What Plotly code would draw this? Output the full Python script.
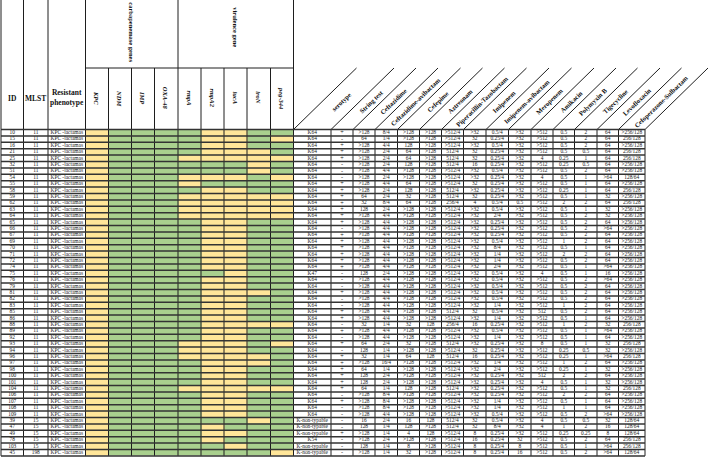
import plotly.graph_objects as go

# ---------------- data ----------------
ids = [10, 15, 16, 21, 25, 32, 51, 54, 55, 58, 59, 62, 63, 64, 65, 66, 67, 69, 70, 71,
       72, 74, 75, 76, 79, 81, 82, 83, 85, 86, 88, 89, 92, 93, 94, 96, 97, 98, 100, 101,
       104, 106, 107, 108, 109, 39, 47, 49, 78, 103, 45]
mlst = [11] * 45 + [15, 15, 15, 15, 15, 198]
phenotype = ["KPC -lactamas"] * 51

gene_names = ["KPC", "NDM", "IMP", "OXA-48", "rmpA", "rmpA2", "iucA", "iroN", "peg-344"]
kpc = [1] * 51
ndm = [0] * 51
imp = [0] * 51
oxa48 = [0] * 51
rmpA = [0, 0, 0, 0, 1, 0, 0, 1, 1, 0, 1, 1, 1, 1, 0, 0, 0, 0, 0, 0,
        0, 0, 0, 0, 0, 0, 0, 0, 0, 0, 0, 0, 0, 1, 1, 1, 0, 0, 0, 0,
        1, 0, 0, 0, 0, 0, 0, 0, 0, 0, 0]
rmpA2 = [1, 1, 1, 1, 1, 0, 0, 1, 0, 1, 1, 1, 1, 1, 1, 1, 1, 1, 1, 1,
         1, 1, 0, 1, 1, 1, 1, 1, 1, 1, 1, 1, 1, 1, 1, 1, 1, 1, 1, 1,
         1, 1, 1, 1, 1, 0, 1, 1, 1, 0, 0]
iucA = [1, 1, 1, 1, 1, 0, 0, 1, 0, 1, 1, 1, 1, 1, 1, 1, 1, 1, 1, 1,
        1, 1, 1, 1, 1, 1, 1, 1, 1, 1, 1, 1, 1, 1, 1, 1, 1, 1, 1, 1,
        1, 1, 1, 1, 1, 0, 0, 1, 0, 1, 0]
iroN = [0, 0, 0, 1, 1, 1, 1, 0, 0, 0, 1, 1, 1, 1, 0, 0, 0, 0, 0, 0,
        0, 0, 0, 0, 0, 1, 0, 0, 0, 0, 1, 0, 0, 0, 0, 1, 1, 0, 0, 0,
        1, 0, 0, 0, 0, 1, 0, 0, 0, 0, 0]
peg344 = [0, 1, 0, 0, 1, 0, 0, 1, 0, 0, 1, 1, 1, 1, 0, 0, 0, 0, 0, 0,
          0, 0, 0, 0, 0, 0, 0, 0, 0, 0, 1, 0, 0, 1, 0, 0, 0, 0, 0, 0,
          1, 0, 0, 0, 0, 0, 0, 0, 0, 0, 1]

serotype = ["K64"] * 22 + ["K47"] + ["K64"] * 22 + ["K-non-typable", "K-non-typable",
            "K-non-typable", "K54", "K-non-typable", "K-non-typable"]
string_test = ["+", "-", "+", "+", "+", "-", "-", "-", "+", "+", "+", "+", "+", "+", "+", "-", "+",
               "+", "+", "+", "+", "+", "-", "-", "-", "+", "-", "-", "+", "+", "-", "+", "-", "+",
               "-", "+", "+", "+", "+", "+", "+", "-", "+", "-", "-", "-", "-", "+", "-", "-", "-"]

drug_names = ["Ceftazidime", "Ceftazidime-avibactam", "Cefepime", "Aztreonam",
              "Piperacillin-Tazobactam", "Imipenem", "Imipenem-avibactam", "Meropenem",
              "Amikacin", "Polymyxin B", "Tigecycline", "Levofloxacin", "Cefoperazone-Sulbactam"]

ceftazidime = [">128", "64", ">128", ">128", ">128", ">128", ">128", ">128", ">128", ">128",
               "64", "32", "128", ">128", ">128", ">128", ">128", ">128", ">128", ">128",
               ">128", ">128", "128", ">128", ">128", ">128", ">128", ">128", ">128", ">128",
               "32", ">128", ">128", "64", "128", "32", ">128", "64", "128", "128",
               "64", ">128", ">128", ">128", ">128", "16", "128", ">128", ">128", "128", ">128"]
caz_avi = ["8/4", "1/4", "4/4", "2/4", "2/4", "2/4", "4/4", "2/4", "4/4", "2/4",
           "2/4", "8/4", "2/4", "4/4", "4/4", "4/4", "4/4", "4/4", "4/4", "4/4",
           "4/4", "4/4", "2/4", "4/4", "4/4", "4/4", "4/4", "4/4", "4/4", "4/4",
           "1/4", "4/4", "4/4", "2/4", "1/4", "1/4", "16/4", "1/4", "2/4", "2/4",
           "1/4", "8/4", "8/4", "8/4", "4/4", "2/4", "1/4", "1/4", "2/4", "1/4", "1/4"]
cefepime = [">128", ">128", "128", "64", "64", "128", ">128", ">128", "64", "128",
            "32", "64", ">128", ">128", ">128", ">128", ">128", ">128", ">128", ">128",
            ">128", ">128", ">128", ">128", ">128", ">128", ">128", ">128", ">128", ">128",
            "32", ">128", ">128", "32", ">128", "64", ">128", ">128", ">128", ">128",
            "128", ">128", ">128", ">128", ">128", "16", "128", "4", ">128", "8", "32"]
aztreonam = [">128", ">128", ">128", ">128", ">128", ">128", ">128", ">128", ">128", ">128",
             ">128", ">128", ">128", ">128", ">128", ">128", ">128", ">128", ">128", ">128",
             ">128", ">128", ">128", ">128", ">128", ">128", ">128", ">128", ">128", ">128",
             "128", ">128", ">128", ">128", ">128", "128", ">128", ">128", ">128", ">128",
             ">128", ">128", ">128", ">128", ">128", "128", ">128", "128", ">128", ">128", ">128"]
pip_tazo = [">512/4", ">512/4", ">512/4", "512/4", "512/4", "512/4", ">512/4", ">512/4", ">512/4", "512/4",
            "512/4", "256/4", ">512/4", ">512/4", ">512/4", ">512/4", ">512/4", ">512/4", ">512/4", ">512/4",
            ">512/4", ">512/4", ">512/4", ">512/4", ">512/4", ">512/4", ">512/4", ">512/4", "512/4", ">512/4",
            "256/4", ">512/4", ">512/4", "512/4", ">512/4", "512/4", ">512/4", ">512/4", ">512/4", ">512/4",
            "512/4", ">512/4", ">512/4", ">512/4", ">512/4", "512/4", "512/4", ">512/4", ">512/4", ">512/4", ">512/4"]
imipenem = [">32", "32", ">32", "32", "32", "16", ">32", ">32", "32", ">32",
            "32", "4", ">32", ">32", ">32", ">32", ">32", ">32", ">32", ">32",
            ">32", ">32", ">32", ">32", ">32", ">32", ">32", ">32", "32", ">32",
            "16", ">32", ">32", ">32", "32", "16", ">32", ">32", ">32", ">32",
            ">32", ">32", ">32", ">32", ">32", "32", "32", "8", "16", "8", "8"]
imi_avi = ["0.5/4", "0.25/4", "0.5/4", "0.25/4", "0.25/4", "0.25/4", "0.5/4", "0.25/4", "0.25/4", "0.25/4",
           "0.25/4", "0.5/4", "0.5/4", "2/4", "0.25/4", "0.25/4", "0.25/4", "0.5/4", "8/4", "1/4",
           "1/4", "2/4", "0.5/4", "0.5/4", "0.5/4", "0.5/4", "0.5/4", "1/4", "0.5/4", "1/4",
           "0.25/4", "0.5/4", "1/4", "0.25/4", "0.25/4", "0.25/4", "1/4", "2/4", "0.25/4", "0.25/4",
           "0.25/4", "0.25/4", "1/4", "1/4", "0.5/4", "0.5/4", "8/4", "0.25/4", "0.25/4", "0.25/4", "0.25/4"]
meropenem = [">32", ">32", ">32", ">32", ">32", ">32", ">32", ">32", ">32", ">32",
             ">32", "0.5", ">32", ">32", ">32", ">32", ">32", ">32", ">32", ">32",
             ">32", ">32", ">32", ">32", ">32", ">32", ">32", ">32", ">32", ">32",
             ">32", ">32", ">32", ">32", ">32", ">32", ">32", ">32", ">32", ">32",
             ">32", ">32", ">32", ">32", ">32", ">32", ">32", ">32", "32", "8", "16"]
amikacin = [">512", ">512", ">512", ">512", "4", ">512", ">512", "4", ">512", ">512",
            ">512", ">512", ">512", ">512", ">512", ">512", ">512", ">512", ">512", ">512",
            ">512", ">512", "4", ">512", ">512", ">512", ">512", ">512", "512", ">512",
            ">512", ">512", ">512", "8", ">512", ">512", ">512", ">512", "512", "4",
            ">512", ">512", ">512", ">512", ">512", "4", "4", ">512", ">512", ">512", ">512"]
polymyxin_b = ["0.5", "0.5", "0.5", "0.5", "0.25", "0.25", "0.5", "0.5", "0.5", "0.25",
               "0.5", "2", "0.5", "0.5", "0.5", "0.5", "0.5", "1", "0.5", "2",
               "0.5", "0.5", "0.5", "0.5", "0.5", "0.5", "0.5", "1", "0.5", "0.5",
               "1", "0.5", "0.5", "0.5", "0.25", "0.25", "1", "0.25", "2", "0.5",
               "0.5", "2", "0.5", "1", "0.5", "0.5", "1", "0.25", "0.5", "0.5", "0.5"]
tigecycline = ["2", "2", "2", "0.5", "1", "0.5", "2", "1", "1", "1",
               "1", "2", "1", "2", "2", "2", "2", "2", "1", "2",
               "2", "1", "1", "2", "2", "2", "2", "2", "2", "1",
               "2", "1", "1", "1", "0.5", "1", "2", "1", "2", "1",
               "1", "2", "1", "1", "2", "0.5", "2", "0.25", "2", "1", "2"]
levofloxacin = ["64", "64", "64", "64", "64", "64", "64", ">64", "64", "64",
                "32", "64", "32", "32", "64", ">64", "64", "64", "64", "64",
                "64", ">64", "16", ">64", "64", "64", "64", "64", "64", "64",
                "32", ">64", "64", "32", "32", ">64", "64", "32", "64", "32",
                "32", "64", "64", "64", ">64", "32", "16", "8", "64", ">64", ">64"]
cefop_sulb = [">256/128", "256/128", ">256/128", "256/128", "256/128", ">256/128", ">256/128", "128/64", ">256/128", "256/128",
              ">256/128", "256/128", ">256/128", ">256/128", ">256/128", ">256/128", ">256/128", ">256/128", ">256/128", ">256/128",
              ">256/128", ">256/128", ">256/128", ">256/128", ">256/128", ">256/128", ">256/128", ">256/128", ">256/128", ">256/128",
              "256/128", ">256/128", ">256/128", "256/128", ">256/128", "256/128", ">256/128", ">256/128", ">256/128", ">256/128",
              "256/128", ">256/128", ">256/128", ">256/128", ">256/128", "128/64", "128/64", "128/64", "256/128", "256/128", "128/64"]

# ---------------- layout constants ----------------
W, H = 708, 461
col_edges = [1, 23.5, 48, 85.5, 108.5, 131.5, 154.5, 178, 201, 224, 247, 270.5, 293.5,
             331, 353, 375, 397.5, 419.5, 441.5, 463.5, 486, 508.5, 531, 553, 574.5,
             597, 618.5, 645]
head_top, group_bot, row_top, row_h = 0, 68, 129.5, 6.4
diag_dx = 63
YELLOW, GREEN = "#FFE699", "#A9D08E"
LINE = "#1e1e1e"
SERIF = "Liberation Serif"

n = len(ids)
row_edges = [row_top + i * row_h for i in range(n + 1)]
row_mid = [row_top + (i + 0.5) * row_h for i in range(n)]
cx = [(col_edges[i] + col_edges[i + 1]) / 2 for i in range(len(col_edges) - 1)]

fig = go.Figure()

# gene presence cells
genes = [kpc, ndm, imp, oxa48, rmpA, rmpA2, iucA, iroN, peg344]
z = [[g[r] for g in genes] for r in range(n)]
fig.add_trace(go.Heatmap(
    x=col_edges[3:13], y=row_edges, z=z, zmin=0, zmax=1,
    colorscale=[[0, GREEN], [0.5, GREEN], [0.5, YELLOW], [1, YELLOW]],
    showscale=False, hoverinfo="skip", xgap=0, ygap=0))

# text columns
text_cols = [(0, [str(v) for v in ids]), (1, [str(v) for v in mlst]), (2, phenotype),
             (12, serotype), (13, string_test)]
drug_vals = [ceftazidime, caz_avi, cefepime, aztreonam, pip_tazo, imipenem, imi_avi,
             meropenem, amikacin, polymyxin_b, tigecycline, levofloxacin, cefop_sulb]
for k, vals in enumerate(drug_vals):
    text_cols.append((14 + k, vals))
for ci, vals in text_cols:
    fig.add_trace(go.Scatter(
        x=[cx[ci]] * n, y=row_mid, text=vals, mode="text",
        textposition="middle center", cliponaxis=False, hoverinfo="skip",
        textfont=dict(family=SERIF, size=5.4 if ci != 13 else 6.2, color="#1a1a1a")))

# grid lines
lx, ly = [], []
def seg(x0, y0, x1, y1):
    lx.extend([x0, x1, None]); ly.extend([y0, y1, None])

bottom = row_edges[-1]
for e in col_edges:
    seg(e, row_top, e, bottom)
for e in col_edges[:4]:
    seg(e, head_top, e, row_top)
seg(col_edges[7], head_top, col_edges[7], row_top)
seg(col_edges[12], head_top, col_edges[12], row_top)
for e in col_edges[4:12]:
    if e != col_edges[7]:
        seg(e, group_bot, e, row_top)
seg(col_edges[3], group_bot, col_edges[12], group_bot)
for e in col_edges[12:]:
    seg(e, row_top, e + diag_dx, group_bot)
fig.add_trace(go.Scatter(x=lx, y=ly, mode="lines", line=dict(color=LINE, width=1),
                         hoverinfo="skip", cliponaxis=False))

hx, hy = [], []
for y in row_edges:
    hx.extend([col_edges[0], col_edges[-1], None]); hy.extend([y, y, None])
fig.add_trace(go.Scatter(x=hx, y=hy, mode="lines", line=dict(color="#333333", width=1.5),
                         hoverinfo="skip", cliponaxis=False))

# header text
ann = []
bold7 = dict(family=SERIF, size=7.5, color="#111")
ann.append(dict(x=cx[0], y=98, text="<b>ID</b>", font=bold7))
ann.append(dict(x=cx[1], y=98, text="<b>MLST</b>", font=bold7))
ann.append(dict(x=cx[2], y=97, text="<b>Resistant<br>phenotype</b>", font=bold7))
ann.append(dict(x=(col_edges[3] + col_edges[7]) / 2, y=32, text="<b>carbapenemase genes</b>",
                textangle=90, font=dict(family=SERIF, size=6.5, color="#111")))
ann.append(dict(x=(col_edges[7] + col_edges[12]) / 2, y=27, text="<b>virulence gene</b>",
                textangle=90, font=dict(family=SERIF, size=6.5, color="#111")))
for i, g in enumerate(gene_names):
    ann.append(dict(x=cx[3 + i], y=98, text="<b><i>%s</i></b>" % g, textangle=90,
                    font=dict(family=SERIF, size=6.5, color="#111")))
diag_labels = ["serotype", "String test"] + drug_names
yc = 101
for i, lab in enumerate(diag_labels):
    c = 12 + i
    xc = cx[c] + (row_top - yc) * diag_dx / (row_top - group_bot)
    ann.append(dict(x=xc, y=yc, text="<b>%s</b>" % lab, textangle=-44,
                    font=dict(family=SERIF, size=6.6, color="#111")))
for a in ann:
    a.update(xref="x", yref="y", showarrow=False, xanchor="center", yanchor="middle")

fig.update_layout(
    width=W, height=H, margin=dict(l=0, r=0, t=0, b=0),
    paper_bgcolor="white", plot_bgcolor="white", showlegend=False,
    xaxis=dict(range=[0, W], visible=False, fixedrange=True),
    yaxis=dict(range=[H, 0], visible=False, fixedrange=True),
    annotations=ann)

fig.write_html("out.html", config={"displayModeBar": False, "staticPlot": True},
               post_script="document.body.style.margin='0';document.body.style.overflow='hidden';")
